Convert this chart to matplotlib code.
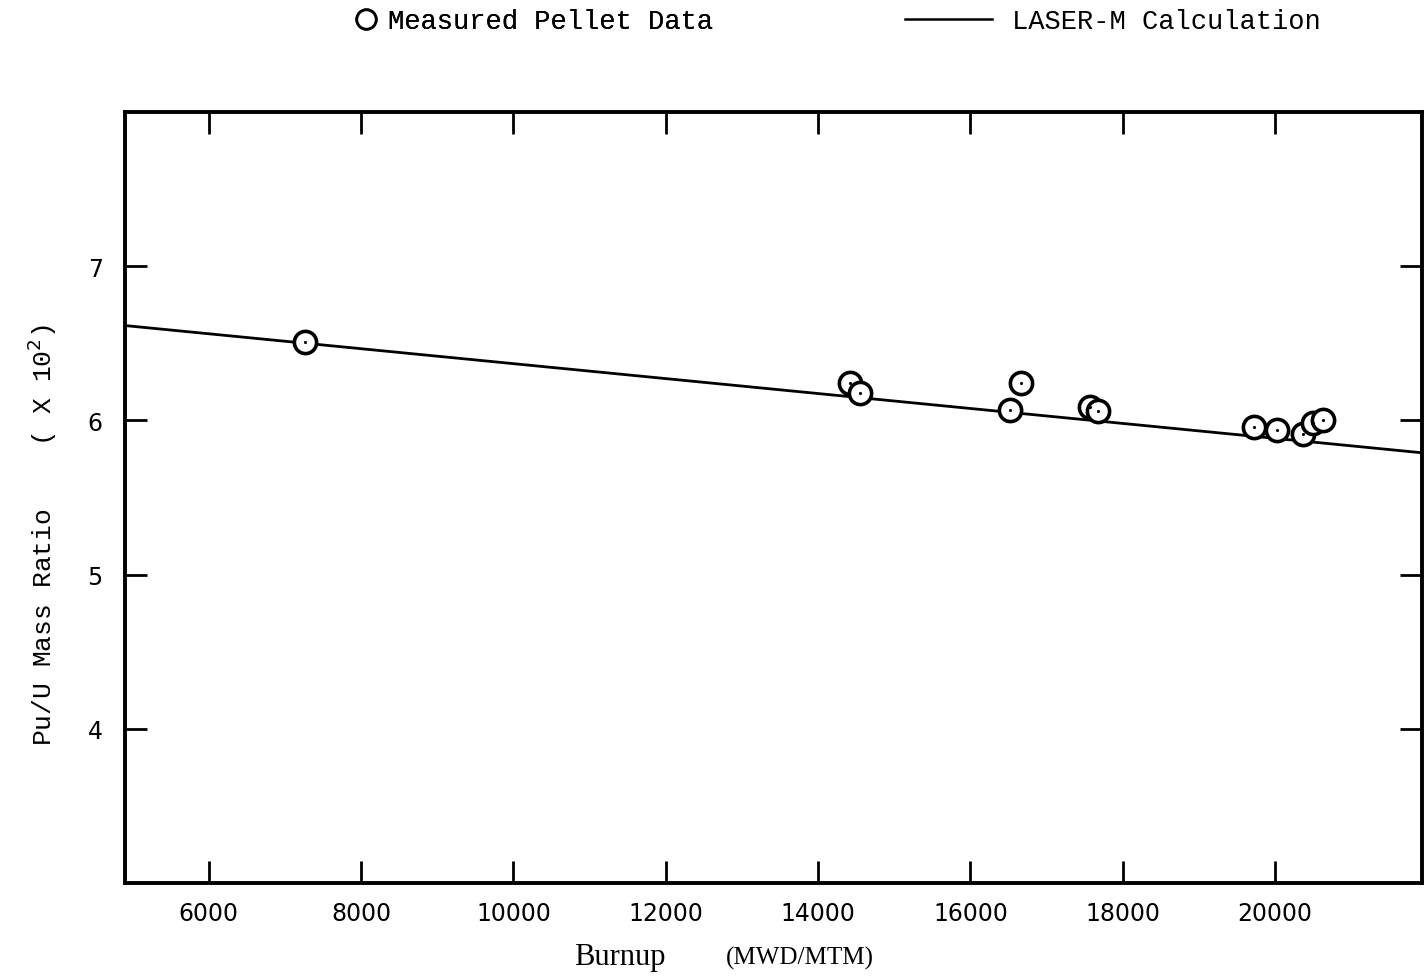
import matplotlib
matplotlib.use('Agg')
import matplotlib.pyplot as plt
from matplotlib.lines import Line2D

# measured pellet data (burnup MWD/MTM, Pu/U ratio x 10^2)
burnup = [7260, 14420, 14550, 16520, 16665, 17570, 17675, 19725, 20030, 20370, 20500, 20630]
pu_u = [6.51, 6.24, 6.18, 6.065, 6.245, 6.09, 6.06, 5.955, 5.94, 5.915, 5.98, 6.00]

# LASER-M calculation line
calc_burnup = [4900, 21930]
calc_ratio = [6.615, 5.79]

xticks = [6000, 8000, 10000, 12000, 14000, 16000, 18000, 20000]
yticks = [4, 5, 6, 7]

mono = 'Liberation Mono'

fig = plt.figure(figsize=(14.26, 9.79), dpi=100)
ax = fig.add_axes([0.0877, 0.097, 0.9095, 0.7876])

ax.plot(calc_burnup, calc_ratio, color='black', lw=2.0, zorder=2)
ax.plot(burnup, pu_u, ls='none', marker='o', ms=16, mfc='white', mec='black', mew=2.6, zorder=3)
ax.plot(burnup, pu_u, ls='none', marker='.', ms=2.5, color='black', zorder=4)

ax.set_xlim(4900, 21930)
ax.set_ylim(3.0, 8.0)
ax.set_xticks(xticks)
ax.set_yticks(yticks)
ax.set_xticklabels([str(v) for v in xticks])
ax.set_yticklabels([str(v) for v in yticks])

for s in ax.spines.values():
    s.set_linewidth(2.8)

ax.tick_params(axis='both', direction='in', length=16, width=2.0,
               top=True, right=True, labelsize=17)
ax.tick_params(axis='x', pad=13)
ax.tick_params(axis='y', pad=16)

# axis titles
fig.text(620 / 1426, 1 - 958 / 979, 'Burnup', family='Liberation Serif',
         fontsize=22, ha='center', va='center')
fig.text(800 / 1426, 1 - 958 / 979, '(MWD/MTM)', family='Liberation Serif',
         fontsize=18, ha='center', va='center')
fig.text(42 / 1426, 1 - 535 / 979, 'Pu/U Mass Ratio    ( X 10$^2$)', family=mono,
         fontsize=19, rotation=90, ha='center', va='center')

# legend across the top
h1 = Line2D([], [], ls='none', marker='o', ms=14, mfc='white', mec='black', mew=2.0)
h2 = Line2D([], [], color='black', lw=1.8)
leg1 = fig.legend([h1], ['Measured Pellet Data'], loc='center left',
                  bbox_to_anchor=(0.249, 1 - 22 / 979), frameon=False,
                  handlelength=0.8, handletextpad=0.4, borderpad=0, borderaxespad=0,
                  prop={'family': mono, 'size': 19.5})
leg2 = fig.legend([h2], ['LASER-M Calculation'], loc='center left',
                  bbox_to_anchor=(0.6346, 1 - 22 / 979), frameon=False,
                  handlelength=3.2, handletextpad=0.75, borderpad=0, borderaxespad=0,
                  prop={'family': mono, 'size': 19.5})
fig.add_artist(leg1)

fig.savefig('out.png', dpi=100)
